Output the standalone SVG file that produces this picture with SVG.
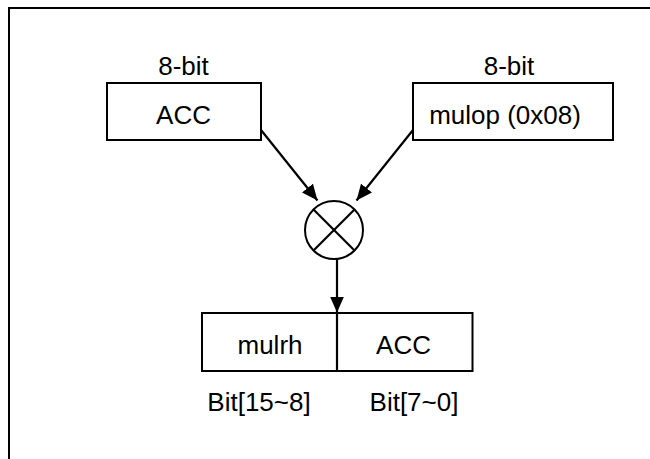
<svg xmlns="http://www.w3.org/2000/svg" width="650" height="459" viewBox="0 0 650 459">
<style>
  text { font-family: "Liberation Sans", Arial, sans-serif; font-size: 26px; fill: #000; }
  .box { fill: #fff; stroke: #000; stroke-width: 2; }
  .line { fill: none; stroke: #000; stroke-width: 2.2; }
</style>
<defs>
  <marker id="arrow" viewBox="0 0 16 14" refX="16" refY="7" markerWidth="16" markerHeight="14" markerUnits="userSpaceOnUse" orient="auto">
    <path d="M0,0 L16,7 L0,14 Z" fill="#000"/>
  </marker>
</defs>
<rect x="9" y="8" width="700" height="500" fill="#fff" stroke="#000" stroke-width="2"/>
<g id="connectors">
  <line class="line" x1="261" y1="130" x2="317.5" y2="200.5" marker-end="url(#arrow)"/>
  <line class="line" x1="413" y1="130" x2="356.5" y2="200.5" marker-end="url(#arrow)"/>
  <line class="line" x1="337" y1="259" x2="337" y2="312.5" marker-end="url(#arrow)"/>
</g>
<g id="acc-in">
  <rect class="box" x="107" y="83" width="154" height="57"/>
  <text x="183.5" y="75" text-anchor="middle">8-bit</text>
  <text x="183.5" y="124" text-anchor="middle">ACC</text>
</g>
<g id="mulop">
  <rect class="box" x="413" y="83" width="200" height="57"/>
  <text x="509" y="75" text-anchor="middle">8-bit</text>
  <text x="505" y="124" text-anchor="middle">mulop (0x08)</text>
</g>
<g id="multiplier">
  <circle cx="334" cy="230" r="29" fill="#fff" stroke="#000" stroke-width="2"/>
  <line class="line" x1="313.5" y1="209.5" x2="354.5" y2="250.5"/>
  <line class="line" x1="354.5" y1="209.5" x2="313.5" y2="250.5"/>
</g>
<g id="result">
  <rect class="box" x="202" y="313" width="270.5" height="58"/>
  <line class="line" x1="337" y1="313" x2="337" y2="371"/>
  <text x="270" y="354" text-anchor="middle">mulrh</text>
  <text x="403.5" y="354" text-anchor="middle">ACC</text>
  <text x="259" y="411" text-anchor="middle">Bit[15~8]</text>
  <text x="414" y="411" text-anchor="middle">Bit[7~0]</text>
</g>
</svg>
